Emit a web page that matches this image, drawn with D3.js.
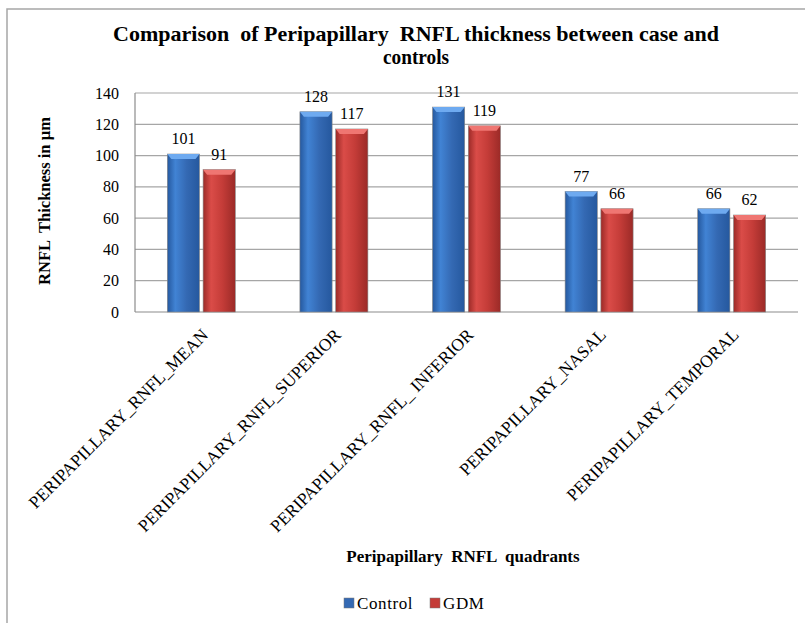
<!DOCTYPE html>
<html>
<head>
<meta charset="utf-8">
<script src="https://cdn.jsdelivr.net/npm/d3@7"></script>
<style>
  body { margin: 0; background: #fff; }
</style>
</head>
<body>
<svg id="canvas" width="805" height="623"></svg>
<script>
let categories = ['PERIPAPILLARY_RNFL_MEAN', 'PERIPAPILLARY_RNFL_SUPERIOR', 'PERIPAPILLARY_RNFL_ INFERIOR', 'PERIPAPILLARY_NASAL', 'PERIPAPILLARY_TEMPORAL']
let seriesNames = ['Control', 'GDM']
let controlValues = [101, 128, 131, 77, 66]
let gdmValues = [91, 117, 119, 66, 62]
let yTicks = [0, 20, 40, 60, 80, 100, 120, 140]

let serif = "'Liberation Serif'"
let canvas = d3.select('#canvas').style('font-family', serif)

let plotLeft = 135, plotRight = 798, plotTop = 93, plotBottom = 312

let xScale = d3.scaleBand().domain(categories).range([plotLeft, plotRight])
let inner = d3.scaleBand().domain(seriesNames).range([0, 68]).paddingInner(0.1)
let yScale = d3.scaleLinear().domain([0, 140]).range([plotBottom, plotTop])

// gradients for the bevelled bars
let defs = canvas.append('defs')
let makeGrad = (id, dark, mid, light) => {
    let g = defs.append('linearGradient').attr('id', id).attr('x1', 0).attr('x2', 1).attr('y1', 0).attr('y2', 0)
    g.append('stop').attr('offset', '0%').attr('stop-color', dark)
    g.append('stop').attr('offset', '25%').attr('stop-color', light)
    g.append('stop').attr('offset', '60%').attr('stop-color', mid)
    g.append('stop').attr('offset', '100%').attr('stop-color', dark)
}
makeGrad('gradControl', '#25589e', '#3469b3', '#4183d4')
makeGrad('gradGDM', '#9b2a27', '#c43c38', '#da4c48')
let fills = {Control: 'url(#gradControl)', GDM: 'url(#gradGDM)'}
let caps = {Control: '#6eaaf0', GDM: '#ef7672'}
let legendColors = {Control: '#3469b3', GDM: '#c43c38'}

// outer frame
canvas.append('path')
    .attr('d', 'M7,623 L7,9 L805,9')
    .attr('fill', 'none').attr('stroke', '#a6a6a6').attr('stroke-width', 1.5)

// title
let addText = (x, y, size, bold, str) => {
    return canvas.append('text').attr('x', x).attr('y', y).attr('text-anchor', 'middle')
        .style('font-family', serif).style('white-space', 'pre')
        .attr('font-size', size).attr('font-weight', bold ? 'bold' : 'normal')
        .text(str)
}
addText(416, 41, 21.5, true, 'Comparison  of Peripapillary  RNFL thickness between case and')
    .attr('textLength', 606).attr('lengthAdjust', 'spacingAndGlyphs')
addText(416, 64, 21.5, true, 'controls')
    .attr('textLength', 66).attr('lengthAdjust', 'spacingAndGlyphs')

// gridlines
canvas.append('g').selectAll('line')
    .data(yTicks)
    .enter().append('line')
    .attr('x1', plotLeft).attr('x2', plotRight)
    .attr('y1', (d) => yScale(d)).attr('y2', (d) => yScale(d))
    .attr('stroke', (d) => d === 0 ? '#8c8c8c' : '#a6a6a6').attr('stroke-width', 1.2)

canvas.append('line').attr('x1', plotLeft).attr('x2', plotLeft).attr('y1', plotTop).attr('y2', plotBottom)
    .attr('stroke', '#8c8c8c').attr('stroke-width', 1.2)

// y tick labels
let yAxis = d3.axisLeft(yScale).tickValues(yTicks).tickSize(0).tickPadding(16)
let yG = canvas.append('g').attr('transform', 'translate(' + plotLeft + ',0)').call(yAxis)
yG.select('.domain').remove()
yG.attr('font-family', null)
yG.selectAll('text').attr('font-size', 16).style('font-family', serif).attr('fill', '#000')

// bars
let rows = categories.map((c, i) => {
    return {category: c, values: [{name: 'Control', value: controlValues[i]}, {name: 'GDM', value: gdmValues[i]}]}
})
let groups = canvas.selectAll('g.group')
    .data(rows)
    .enter().append('g')
    .attr('class', 'group')
    .attr('transform', (d) => 'translate(' + (xScale(d.category) + xScale.bandwidth() / 2 - 34) + ',0)')

let bar = groups.selectAll('g.bar')
    .data((d) => d.values)
    .enter().append('g')
    .attr('class', 'bar')

bar.append('rect')
    .attr('x', (d) => inner(d.name))
    .attr('y', (d) => yScale(d.value))
    .attr('width', inner.bandwidth())
    .attr('height', (d) => plotBottom - yScale(d.value))
    .attr('fill', (d) => fills[d.name])
    .attr('stroke', '#888').attr('stroke-width', 0.6)

bar.append('path')
    .attr('d', (d) => {
        let x0 = inner(d.name), w = inner.bandwidth(), y0 = yScale(d.value)
        return 'M' + x0 + ',' + y0 + ' L' + (x0 + w) + ',' + y0 + ' L' + (x0 + w - 4) + ',' + (y0 + 5) + ' L' + (x0 + 4) + ',' + (y0 + 5) + ' Z'
    })
    .attr('fill', (d) => caps[d.name])

bar.append('text')
    .attr('x', (d) => inner(d.name) + inner.bandwidth() / 2)
    .attr('y', (d) => yScale(d.value) - 10)
    .attr('text-anchor', 'middle')
    .style('font-family', serif)
    .attr('font-size', 16)
    .text((d) => d.value)

// category labels
canvas.append('g').selectAll('text')
    .data(categories)
    .enter().append('text')
    .attr('transform', (d) => 'translate(' + (xScale(d) + xScale.bandwidth() / 2 + 8) + ',336) rotate(-45)')
    .attr('text-anchor', 'end')
    .style('font-family', serif).style('white-space', 'pre')
    .attr('font-size', 17.5)
    .text((d) => d)

// axis titles
canvas.append('text')
    .attr('transform', 'translate(50,201) rotate(-90)')
    .attr('text-anchor', 'middle').attr('font-size', 16.5).attr('font-weight', 'bold')
    .style('font-family', serif).style('white-space', 'pre')
    .text('RNFL  Thickness in µm')

addText(463, 562, 17, true, 'Peripapillary  RNFL  quadrants')

// legend
let legend = canvas.append('g').selectAll('g')
    .data(seriesNames)
    .enter().append('g')
    .attr('transform', (d, i) => 'translate(' + (344 + i * 86) + ',609)')
legend.append('rect').attr('x', 0).attr('y', -11).attr('width', 10).attr('height', 10)
    .attr('fill', (d) => legendColors[d]).attr('stroke', '#777').attr('stroke-width', 0.5)
legend.append('text').attr('x', 13).attr('y', 0).attr('font-size', 17)
    .attr('letter-spacing', 0.6)
    .style('font-family', serif).text((d) => d)
</script>
</body>
</html>
